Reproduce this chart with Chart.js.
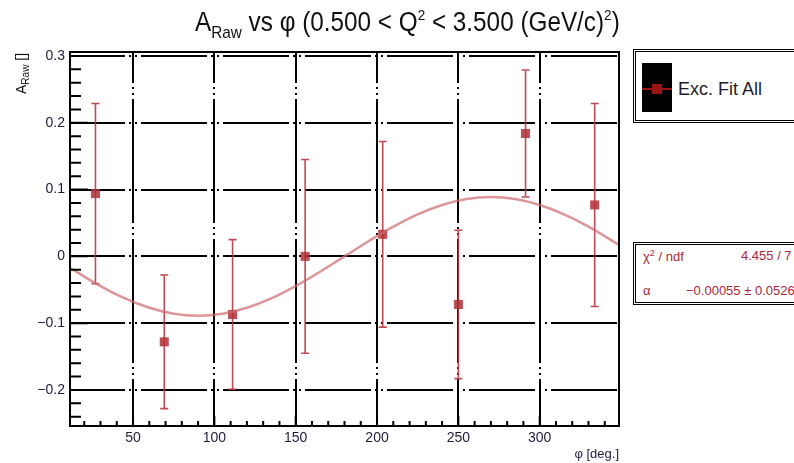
<!DOCTYPE html>
<html lang="en">
<head>
<meta charset="UTF-8">
<title>A_Raw vs phi</title>
<script src="https://cdn.jsdelivr.net/npm/chart.js@4.4.1/dist/chart.umd.min.js"></script>
<style>
  body { margin: 0; background: #fff; }
  #wrap { position: relative; width: 794px; height: 463px; overflow: hidden;
          font-family: "Liberation Sans", Arial, sans-serif; }
  #plot { position: absolute; left: 0; top: 0; }
  .title { position: absolute; left: 195px; top: 7px; font-size: 27px; white-space: nowrap;
           color: #111; transform: scaleX(0.9); transform-origin: left top; line-height: 30px; }
  .title .sb { font-size: 17px; position: relative; top: 7px; }
  .title .sp { font-size: 15px; position: relative; top: -11px; }
  .ytitle { position: absolute; left: 14px; top: 53px; font-size: 14px; white-space: nowrap; color: #111;
            transform: translate(-100%, 0) rotate(-90deg); transform-origin: right top; line-height: 14px; }
  .ytitle .sb { font-size: 10px; position: relative; top: 3px; }
  .xtitle { position: absolute; right: 175px; top: 446px; font-size: 13px; color: #1c1c3c; }
  .box { position: absolute; left: 633px; width: 200px; border: 3px double #000; background: #fff; }
  .leg { top: 49px; height: 68px; }
  .stats { top: 242px; height: 57px; }
  .mk { position: absolute; left: 642px; top: 63px; width: 30px; height: 49px; background: #000; }
  .mk .ln { position: absolute; left: 0; top: 25px; width: 30px; height: 2px; background: #9b1414; }
  .mk .sq { position: absolute; left: 10px; top: 21px; width: 10px; height: 10px; background: #9b1414; }
  .legtxt { position: absolute; left: 678px; top: 79px; font-size: 18px; color: #1c1c2c; }
  .st { position: absolute; font-size: 13px; color: #a8283c; white-space: nowrap; }
  .st sup { font-size: 9px; }
</style>
</head>
<body>
<div id="wrap">
  <canvas id="plot" width="794" height="463"></canvas>

  <div class="title">A<span class="sb">Raw</span> vs &phi; (0.500 &lt; Q<span class="sp">2</span> &lt; 3.500 (GeV/c)<span class="sp">2</span>)</div>
  <div class="ytitle">A<span class="sb">Raw</span> []</div>
  <div class="xtitle">&phi; [deg.]</div>

  <div class="box leg"></div>
  <div class="mk"><div class="ln"></div><div class="sq"></div></div>
  <div class="legtxt">Exc. Fit All</div>

  <div class="box stats"></div>
  <div class="st" style="left:643px; top:248px;">&chi;<sup>2</sup> / ndf</div>
  <div class="st" style="left:741px; top:248px;">4.455 / 7</div>
  <div class="st" style="left:643px; top:283px;">&alpha;</div>
  <div class="st" style="left:686px; top:283px;">&minus;0.00055 &plusmn; 0.0526</div>
</div>

<script>
// measured points
var phi  = [26.9, 69.2, 111.2, 155.8, 203.5, 250.0, 291.3, 333.8];
var asym = [0.094, -0.128, -0.087, 0.000, 0.033, -0.072, 0.184, 0.077];
var err  = [0.135, 0.100, 0.112, 0.145, 0.139, 0.111, 0.095, 0.152];

// fit curve
var fitPhi = [11.25, 30, 45, 60, 75, 90, 105, 120, 135, 150, 165, 180,
              195, 210, 225, 240, 255, 270, 285, 300, 315, 330, 348.75];
var fitVal = [-0.017, -0.0445, -0.063, -0.077, -0.086, -0.089, -0.086, -0.077, -0.063, -0.0445, -0.023, 0.0,
              0.023, 0.0445, 0.063, 0.077, 0.086, 0.089, 0.086, 0.077, 0.063, 0.0445, 0.017];

var xRange = [11.25, 348.75];
var yRange = [-0.254, 0.306];

var red = 'rgba(176, 48, 56, 0.85)';

function fmtY(v) {
    var r = Math.round(v * 10) / 10;
    if (r === 0) return '0';
    return r.toFixed(1).replace('-', '\u2212');
}

// error bars under the markers
var errorBars = {
    id: 'errorBars',
    beforeDatasetDraw: function (chart, args) {
        if (args.index !== 1) return;
        var ctx = chart.ctx, x = chart.scales.x, y = chart.scales.y;
        ctx.save();
        ctx.strokeStyle = 'rgba(185, 55, 65, 0.9)';
        ctx.lineWidth = 1.6;
        for (var i = 0; i < phi.length; i++) {
            var px = x.getPixelForValue(phi[i]);
            var top = y.getPixelForValue(asym[i] + err[i]);
            var bot = y.getPixelForValue(asym[i] - err[i]);
            ctx.beginPath();
            ctx.moveTo(px, top); ctx.lineTo(px, bot);
            ctx.moveTo(px - 4, top); ctx.lineTo(px + 4, top);
            ctx.moveTo(px - 4, bot); ctx.lineTo(px + 4, bot);
            ctx.stroke();
        }
        ctx.restore();
    }
};

// ROOT style frame with inner minor ticks
var frame = {
    id: 'frame',
    afterDraw: function (chart) {
        var ctx = chart.ctx, a = chart.chartArea, x = chart.scales.x, y = chart.scales.y;
        ctx.save();
        ctx.strokeStyle = '#000';
        ctx.lineWidth = 2;
        ctx.beginPath();
        for (var v = 20; v <= 340; v += 10) {
            var px = x.getPixelForValue(v);
            ctx.moveTo(px, a.bottom);
            ctx.lineTo(px, a.bottom - (v % 50 === 0 ? 10 : 5));
        }
        for (var i = -12; i <= 15; i++) {
            var py = y.getPixelForValue(i * 0.02);
            ctx.moveTo(a.left, py);
            ctx.lineTo(a.left + (i % 5 === 0 ? 18 : 11), py);
        }
        ctx.stroke();
        ctx.strokeRect(a.left, a.top, a.right - a.left, a.bottom - a.top);
        ctx.restore();
    }
};

var tickFont = { family: '"Liberation Sans", Arial, sans-serif', size: 14 };

new Chart(document.getElementById('plot'), {
    type: 'scatter',
    data: {
        datasets: [
            {
                label: 'fit',
                data: fitPhi.map(function (p, i) { return { x: p, y: fitVal[i] }; }),
                showLine: true,
                borderColor: 'rgba(205, 105, 110, 0.7)',
                borderWidth: 2.5,
                pointRadius: 0,
                tension: 0.4,
                fill: false
            },
            {
                label: 'Exc. Fit All',
                data: phi.map(function (p, i) { return { x: p, y: asym[i] }; }),
                pointStyle: 'rect',
                pointRadius: 6.4,
                pointHoverRadius: 6.4,
                backgroundColor: red,
                borderWidth: 0
            }
        ]
    },
    options: {
        responsive: false,
        animation: false,
        events: [],
        layout: { padding: { left: 0, right: 175, top: 52, bottom: 0 } },
        plugins: { legend: { display: false }, tooltip: { enabled: false } },
        scales: {
            x: {
                min: xRange[0], max: xRange[1],
                afterFit: function (s) { s.height = 37; },
                border: { display: false, dash: [124, 4, 2, 4, 2, 4], dashOffset: 93 },
                grid: { color: '#000', lineWidth: 2, drawTicks: false },
                ticks: { stepSize: 50, includeBounds: false, padding: 4, color: '#1c1c3c', font: tickFont }
            },
            y: {
                min: yRange[0], max: yRange[1],
                afterFit: function (s) { s.width = 70; },
                border: { display: false, dash: [66, 4, 2, 4, 2, 4], dashOffset: 11 },
                grid: { color: '#000', lineWidth: 2, drawTicks: false },
                ticks: { stepSize: 0.1, includeBounds: false, padding: 5, color: '#1c1c3c', font: tickFont,
                         callback: function (v) { return fmtY(v); } }
            }
        }
    },
    plugins: [errorBars, frame]
});
</script>
</body>
</html>
